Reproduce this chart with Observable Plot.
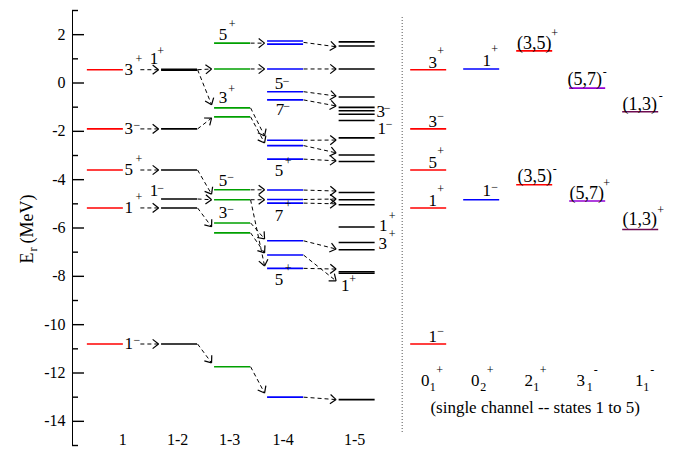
<!DOCTYPE html>
<html><head><meta charset="utf-8">
<script src="https://cdn.jsdelivr.net/npm/d3@7"></script>
<script src="https://cdn.jsdelivr.net/npm/@observablehq/plot@0.6"></script>
<style>body{margin:0;background:#fff}#chart{width:683px;height:449px}</style>
</head><body><div id="chart"></div>
<script>
// ---------------- data ----------------
const columnNames = ["1", "1-2", "1-3", "1-4", "1-5"];
// levels (MeV) of each coupled-channel calculation
const levels1  = [0.55, -1.9, -3.6, -5.17, -10.8];
const spins1   = ["3", "3", "5", "1", "1"];
const parity1  = ["+", "−", "+", "+", "−"];
const levels12 = [0.57, 0.53, -1.9, -3.6, -4.8, -5.17, -10.8];
const levels13 = [1.65, 0.58, -1.03, -1.4, -4.42, -4.83, -5.79, -6.2, -11.74];
const levels14 = [1.74, 1.61, 0.58, -0.36, -0.70, -2.37, -2.59, -3.15, -4.43, -4.82, -4.97, -6.53, -7.12, -7.67, -13.0];
const levels15 = [1.70, 1.53, 0.58, -0.58, -1.01, -1.15, -1.29, -1.55, -2.27, -2.98, -3.25, -4.53, -4.83, -5.04, -5.96, -6.6, -6.9, -7.81, -7.87, -13.1];
// transitions [from, to] between successive columns
const trans01 = [[0.55, 0.55], [-1.9, -1.9], [-3.6, -3.6], [-5.17, -5.17], [-10.8, -10.8]];
const trans12 = [[0.55, 0.58], [0.55, -0.9], [-1.9, -1.45], [-3.6, -4.6], [-4.8, -4.83], [-5.17, -5.95], [-10.8, -11.58]];
const trans23 = [[1.65, 1.65], [0.58, 0.58], [-1.03, -2.19], [-1.4, -2.48], [-4.42, -4.42], [-4.83, -4.83], [-5.79, -6.45], [-6.2, -7.03], [-4.83, -7.57], [-11.74, -12.83]];
const trans34 = [[1.68, 1.5], [0.58, 0.58], [-0.36, -0.54], [-0.70, -0.95], [-2.37, -2.36], [-2.59, -2.89], [-3.15, -3.22], [-4.43, -4.47], [-4.82, -4.8], [-4.97, -5.0], [-6.53, -6.87], [-7.12, -8.19], [-7.67, -7.7], [-13.0, -13.1]];
// single channel states
const singleNames = ["0", "0", "2", "3", "1"];
const singleSubs  = ["1", "2", "1", "1", "1"];
const singleSups  = ["+", "+", "+", "-", "-"];
const single01 = [0.55, -1.9, -3.6, -5.17, -10.8];
const single02 = [0.58, -4.83];
const single21 = [1.33, -4.21];
const single31 = [-0.21, -4.88];
const single11 = [-1.19, -6.06];
const yTicksMajor = [-14, -12, -10, -8, -6, -4, -2, 0, 2];

// ---------------- layout ----------------
const W = 683, H = 449, mL = 72, mR = 11, mT = 10, mB = 4;
const xDom = [0.38, 11.7], yDom = [-15, 3];
const kx = (W - mL - mR) / (xDom[1] - xDom[0]);
const ky = (H - mT - mB) / (yDom[1] - yDom[0]);
const colPos = [1, 2.4, 3.4, 4.4, 5.75];
const rightPos = [7.1, 8.1, 9.1, 10.1, 11.1];
const half = 18 / kx;
const FF = "Liberation Serif";
const red = "#ff0000", green = "#00a000", blue = "#0000ff", violet = "#9400d3", maroon = "#6e0b50";

// px offset helpers
const P = (slot, e, dx, dy, text) => ({x: slot + dx / kx, y: e - dy / ky, text});
const eAt = (py) => yDom[1] - (py - mT) / ky;

// level rows
const levelRows = [];
const leftCols = [levels1, levels12, levels13, levels14, levels15];
const leftColors = [red, "#000", green, blue, "#000"];
leftCols.forEach((arr, i) => arr.forEach(e => levelRows.push({x1: colPos[i] - half, x2: colPos[i] + half, y: e, c: leftColors[i]})));
const rightCols = [single01, single02, single21, single31, single11];
const rightColors = [red, blue, red, violet, maroon];
rightCols.forEach((arr, i) => arr.forEach(e => levelRows.push({x1: rightPos[i] - half, x2: rightPos[i] + half, y: e, c: rightColors[i]})));

// arrows
const arrows = [];
[trans01, trans12, trans23, trans34].forEach((tr, i) => tr.forEach(([a, b]) => {
  const x1 = i === 0 ? colPos[0] + half + 17 / kx : colPos[i] + half;
  const x2 = colPos[i + 1] - half - 3 / kx;
  arrows.push({x1, y1: a, x2, y2: b});
}));
const wings = [];
const ang = 38 * Math.PI / 180, wl = 7.5;
arrows.forEach(a => {
  const dxp = (a.x2 - a.x1) * kx, dyp = -(a.y2 - a.y1) * ky;
  const len = Math.hypot(dxp, dyp);
  const bx = -dxp / len, by = -dyp / len;
  for (const s of [1, -1]) {
    const t = s * ang;
    const rx = bx * Math.cos(t) - by * Math.sin(t);
    const ry = bx * Math.sin(t) + by * Math.cos(t);
    wings.push({x1: a.x2, y1: a.y2, x2: a.x2 + wl * rx / kx, y2: a.y2 - wl * ry / ky});
  }
});

// labels
const base = [], sup = [], paren = [];
levels1.forEach((e, i) => {
  base.push(P(colPos[0] + half, e, 5.5, 0, spins1[i]));
  sup.push(P(colPos[0] + half, e, parity1[i] === "+" ? 15.5 : 13.5, parity1[i] === "+" ? -11 : -4, parity1[i]));
});
const c = colPos;
const J = (slot, e, bdx, bdy, j, sdx, sdy, p) => { base.push(P(slot, e, bdx, bdy, j)); sup.push(P(slot, e, sdx, sdy, p)); };
J(c[1], 0.55, -25.5, -11, "1", -19, -19, "+");
J(c[1], -4.8, -25.5, -8, "1", -19, -11, "−");
J(c[2], 1.65, -9.5, -9, "5", -0.5, -19, "+");
J(c[2], -1.03, -9.5, -10, "3", -1, -19, "+");
J(c[2], -4.42, -9.5, -9, "5", -2, -13, "−");
J(c[2], -5.79, -9.5, -10, "3", -2, -14, "−");
J(c[3], -0.36, -6.5, -8, "5", 0.5, -11, "−");
J(c[3], -0.70, -5.5, 9.5, "7", 1, 6, "−");
J(c[3], -3.15, -6.5, 11, "5", 2.5, 2, "+");
J(c[3], -4.97, -6.5, 12, "7", 2.5, 1, "+");
J(c[3], -7.67, -6.5, 11, "5", 2.5, 0, "+");
J(c[4], -1.29, 23.5, -2.5, "3", 30, -6.5, "−");
J(c[4], -1.55, 24.5, 8.5, "1", 32, 4, "−");
J(c[4], -5.96, 26, -1.5, "1", 35, -10.5, "+");
J(c[4], -6.6, 25.5, 1, "3", 35, -8.5, "+");
J(c[4], -7.84, -12, 13.5, "1", -4.5, 6.5, "+");
// single channel labels
single01.forEach((e, i) => J(rightPos[0], e, 4, -7, spins1[i], 12, parity1[i] === "+" ? -19 : -13, parity1[i]));
J(rightPos[1], single02[0], 5, -8, "1", 13, -20, "+");
J(rightPos[1], single02[1], 5, -9, "1", 13, -13, "−");
const PL = (slot, e, bdx, bdy, t, sdx, sdy, p) => { paren.push(P(slot, e, bdx, bdy, t)); sup.push(P(slot, e, sdx, sdy, p)); };
PL(rightPos[2], single21[0], -0.5, -8, "(3,5)", 20, -18, "+");
PL(rightPos[2], single21[1], 0, -9, "(3,5)", 20, -16, "-");
PL(rightPos[3], single31[0], -3, -9, "(5,7)", 17, -16, "-");
PL(rightPos[3], single31[1], -1, -8, "(5,7)", 19, -18, "+");
PL(rightPos[4], single11[0], -1, -8, "(1,3)", 20, -16, "-");
PL(rightPos[4], single11[1], -1, -10, "(1,3)", 20, -19, "+");

// bottom labels
const eBot = eAt(439);
const colLabelDx = [17.5, -2, -3, -2.5, -2.5];
const colLabels = columnNames.map((t, i) => P(colPos[i], eBot, colLabelDx[i], 0, t));
const eState = eAt(380);
const stateDx = [[-3.5, 4, 11], [-6.5, 1.5, 8.5], [-6, 1.5, 8.5], [-7, 2, 8], [-1.5, 5.5, 11.5]];
const stateBase = [], stateSub = [], stateSup = [];
singleNames.forEach((n, i) => {
  stateBase.push(P(rightPos[i], eState, stateDx[i][0], 0, n));
  stateSub.push(P(rightPos[i], eState, stateDx[i][1], 7, singleSubs[i]));
  stateSup.push(P(rightPos[i], eState, stateDx[i][2], -10, singleSups[i]));
});
const caption = [P(rightPos[2], eAt(407), 0.5, 0, "(single channel -- states 1 to 5)")];

const ints = d3.range(yDom[0], yDom[1] + 1);

const plot = Plot.plot({
  width: W, height: H,
  marginLeft: mL, marginRight: mR, marginTop: mT, marginBottom: mB,
  style: {fontFamily: FF, background: "white"},
  x: {domain: xDom, axis: null},
  y: {domain: yDom, axis: null},
  marks: [
    // y axis
    Plot.ruleX([xDom[0]], {y1: yDom[0], y2: yDom[1], stroke: "#000", strokeWidth: 1}),
    Plot.ruleY(ints, {y: d => d, x1: xDom[0], x2: d => xDom[0] + (d % 2 === 0 ? 12 : 6) / kx, stroke: "#000", strokeWidth: 1.4}),
    Plot.text(yTicksMajor, {x: xDom[0], y: d => d, text: d => String(d), textAnchor: "end", dx: -7, fontSize: 16, fontFamily: FF, fill: "#000"}),
    Plot.text(["E"], {x: xDom[0] + (27 - mL) / kx, y: eAt(257.5), text: d => d, rotate: -90, fontSize: 18, fontFamily: FF}),
    Plot.text(["r"], {x: xDom[0] + (33 - mL) / kx, y: eAt(249), text: d => d, rotate: -90, fontSize: 12, fontFamily: FF}),
    Plot.text(["(MeV)"], {x: xDom[0] + (27 - mL) / kx, y: eAt(243), text: d => d, rotate: -90, textAnchor: "start", fontSize: 18, fontFamily: FF}),
    // separator
    Plot.ruleX([6.6], {y1: eAt(17), y2: eAt(433), stroke: "#555", strokeDasharray: "1,2", strokeWidth: 1}),
    // levels
    Plot.ruleY(levelRows, {x1: "x1", x2: "x2", y: "y", stroke: "c", strokeWidth: 1.6}),
    // arrows
    Plot.link(arrows, {x1: "x1", y1: "y1", x2: "x2", y2: "y2", stroke: "#000", strokeWidth: 1, strokeDasharray: "4,3"}),
    Plot.link(wings, {x1: "x1", y1: "y1", x2: "x2", y2: "y2", stroke: "#000", strokeWidth: 1.2}),
    // labels
    Plot.text(base, {x: "x", y: "y", text: "text", fontSize: 17, fontFamily: FF, fill: "#000"}),
    Plot.text(paren, {x: "x", y: "y", text: "text", fontSize: 18, fontFamily: FF, fill: "#000"}),
    Plot.text(sup, {x: "x", y: "y", text: "text", fontSize: 12, fontFamily: FF, fill: "#000"}),
    Plot.text(colLabels, {x: "x", y: "y", text: "text", fontSize: 16, fontFamily: FF, fill: "#000"}),
    Plot.text(stateBase, {x: "x", y: "y", text: "text", fontSize: 17, fontFamily: FF, fill: "#000"}),
    Plot.text(stateSub, {x: "x", y: "y", text: "text", fontSize: 12, fontFamily: FF, fill: "#000"}),
    Plot.text(stateSup, {x: "x", y: "y", text: "text", fontSize: 12, fontFamily: FF, fill: "#000"}),
    Plot.text(caption, {x: "x", y: "y", text: "text", fontSize: 17, fontFamily: FF, fill: "#000"})
  ]
});
document.getElementById("chart").appendChild(plot);
</script>
</body></html>
